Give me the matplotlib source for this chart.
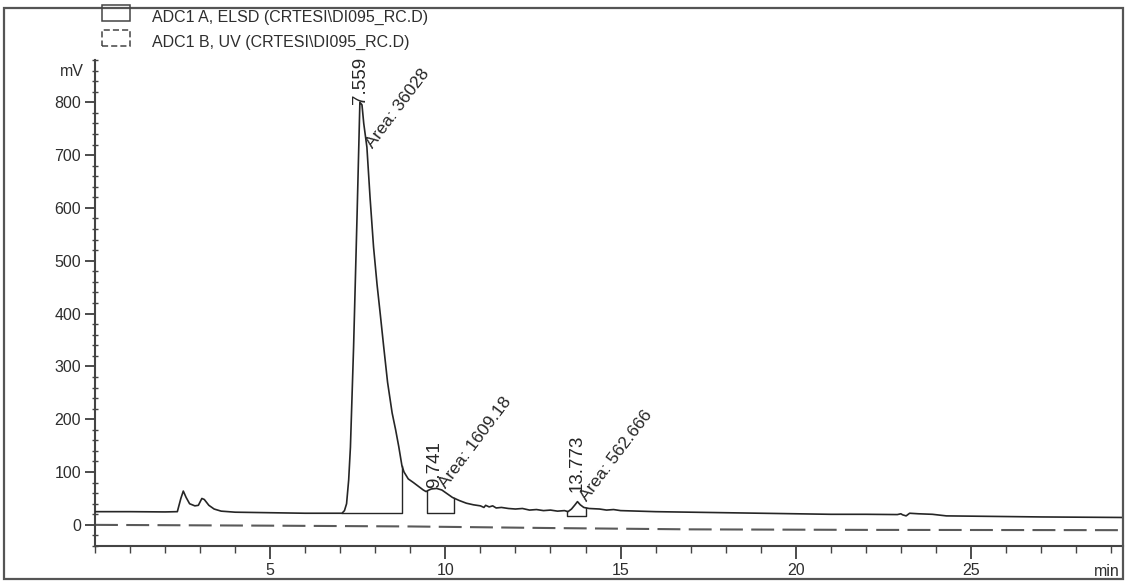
import numpy as np
import matplotlib
matplotlib.use("Agg")
import matplotlib.pyplot as plt
from matplotlib.patches import Rectangle
from matplotlib.ticker import MultipleLocator

plt.rcParams["font.family"] = ["Liberation Sans", "DejaVu Sans"]

# ELSD trace (ADC1 A): retention time [min], signal [mV]
elsd_time = [
    0.0, 1.0, 2.0, 2.35, 2.45, 2.52, 2.6, 2.7, 2.85, 2.95, 3.05, 3.12, 3.25, 3.4,
    3.6, 4.0, 5.0, 6.0, 6.8, 7.05, 7.12, 7.18, 7.24, 7.29, 7.38, 7.48, 7.53, 7.56,
    7.62, 7.67, 7.76, 7.85, 7.95, 8.05, 8.14, 8.24, 8.35, 8.48, 8.58, 8.67, 8.72,
    8.76, 8.82, 8.94, 9.09, 9.25, 9.37, 9.45, 9.5, 9.6, 9.75, 9.9, 10.05, 10.2,
    10.4, 10.6, 10.8, 11.0, 11.1, 11.15, 11.25, 11.35, 11.45, 11.6, 11.8, 12.0,
    12.2, 12.4, 12.6, 12.8, 13.0, 13.2, 13.4, 13.5, 13.6, 13.7, 13.77, 13.85,
    13.95, 14.1, 14.4, 14.6, 14.8, 15.0, 15.5, 16.0, 17.0, 18.0, 19.0, 20.0, 21.0,
    22.0, 22.9, 23.0, 23.05, 23.15, 23.25, 23.5, 23.9, 24.3, 25.0, 27.0, 29.34,
]
elsd_mv = [
    25, 25, 24.5, 25, 50, 64, 52, 40, 36, 37, 50, 48, 37, 30,
    26, 24, 23, 22, 22, 22, 27, 40, 85, 147, 336, 587, 720, 800,
    795, 760, 715, 620, 526, 455, 400, 337, 270, 212, 180, 148, 128,
    112, 100, 87, 80, 72, 66, 63, 65, 68, 69, 66, 59, 52,
    46, 41, 38, 36, 33, 37, 34, 36, 32, 33, 31, 30,
    31, 28, 29, 27, 28, 26, 27, 25, 30, 38, 44, 38,
    33, 31, 30, 28, 29, 27, 26, 25, 24, 23, 22, 21, 20,
    20, 19.5, 21, 19, 17, 22, 21, 20, 17, 16.5, 15, 14,
]

# UV trace (ADC1 B)
uv_time = [0.0, 5.0, 9.0, 13.0, 17.0, 22.0, 29.34]
uv_mv = [0.0, -1.5, -3.0, -6.0, -8.5, -9.5, -10.0]

# Integrated peaks: retention time, area, integration start/end, baseline level
peak_rt = [7.559, 9.741, 13.773]
peak_area = [36028, 1609.18, 562.666]
peak_start = [7.05, 9.47, 13.48]
peak_end = [8.76, 10.24, 14.0]
peak_base = [22, 23, 17]

legend_labels = [
    "ADC1 A, ELSD (CRTESI\\DI095_RC.D)",
    "ADC1 B, UV (CRTESI\\DI095_RC.D)",
]

W, H = 1126, 587
fig = plt.figure(figsize=(W / 100, H / 100), dpi=100)

# outer frame
fig.patches.append(Rectangle((4 / W, 1 - 579 / H), 1119 / W, 571 / H,
                             transform=fig.transFigure, fill=False,
                             edgecolor="#555555", linewidth=1.6))

ax = fig.add_axes([95 / W, 1 - 546 / H, 1028 / W, 486 / H])
ink = "#262626"

ax.plot(elsd_time, elsd_mv, color=ink, linewidth=1.2, zorder=3)
ax.plot(uv_time, uv_mv, color="#5a5a5a", linewidth=1.5,
        dashes=(11, 4), zorder=2)

# integration baselines and drop lines
for t0, t1, b in zip(peak_start, peak_end, peak_base):
    y0 = np.interp(t0, elsd_time, elsd_mv)
    y1 = np.interp(t1, elsd_time, elsd_mv)
    ax.plot([t0, t0, t1, t1], [y0, b, b, y1], color=ink, linewidth=1.0, zorder=3)

# peak annotations
rt_offsets = [(1, 0), (-2, 0), (0, 10)]
area_offsets = [(16, -47), (12, -2), (12, -2)]
for rt, area, ro, ao in zip(peak_rt, peak_area, rt_offsets, area_offsets):
    h = np.interp(rt, elsd_time, elsd_mv)
    ax.annotate(f"{rt:.3f}", (rt, h), xytext=ro, textcoords="offset pixels",
                rotation=90, ha="center", va="bottom", fontsize=13.5,
                color=ink, zorder=4)
    ax.annotate(f"Area: {area:g}", (rt, h), xytext=ao,
                textcoords="offset pixels", rotation=53,
                rotation_mode="anchor", ha="left", va="bottom",
                fontsize=12.5, color=ink, zorder=4)

ax.set_xlim(0, 29.34)
ax.set_ylim(-40, 880)
for s in ("top", "right"):
    ax.spines[s].set_visible(False)
for s in ("left", "bottom"):
    ax.spines[s].set_color("#444444")
    ax.spines[s].set_linewidth(1.5)

ax.set_xticks([5, 10, 15, 20, 25])
ax.xaxis.set_minor_locator(MultipleLocator(1))
ax.set_yticks(range(0, 801, 100))
ax.yaxis.set_minor_locator(MultipleLocator(20))
ax.tick_params(axis="x", which="major", length=9, width=1.2, pad=3,
               labelsize=11.5, colors="#2e2e2e")
ax.tick_params(axis="x", which="minor", length=5, width=1.0, colors="#444444")
ax.tick_params(axis="y", which="major", length=7, width=1.2, pad=3,
               labelsize=11.5, colors="#2e2e2e")
ax.tick_params(axis="y", which="minor", length=4, width=1.0,
               direction="inout", colors="#444444")

fig.text(71.7 / W, 1 - 71.7 / H, "mV", ha="center", va="center",
         fontsize=11.5, color="#2e2e2e")
fig.text(1120 / W, 1 - 572 / H, "min", ha="right", va="center",
         fontsize=11.5, color="#2e2e2e")

# legend
legend_styles = ["-", (0, (4, 2))]
for i, (lab, ls) in enumerate(zip(legend_labels, legend_styles)):
    top = [5, 30][i]
    fig.patches.append(Rectangle((102 / W, 1 - (top + 16) / H), 28 / W, 16 / H,
                                 transform=fig.transFigure, fill=False,
                                 edgecolor="#444444", linewidth=1.1,
                                 linestyle=ls))
    fig.text(152 / W, 1 - (top + 12) / H, lab, ha="left", va="center",
             fontsize=11.5, color="#2e2e2e")

fig.savefig("out.png", dpi=100, facecolor="white")
